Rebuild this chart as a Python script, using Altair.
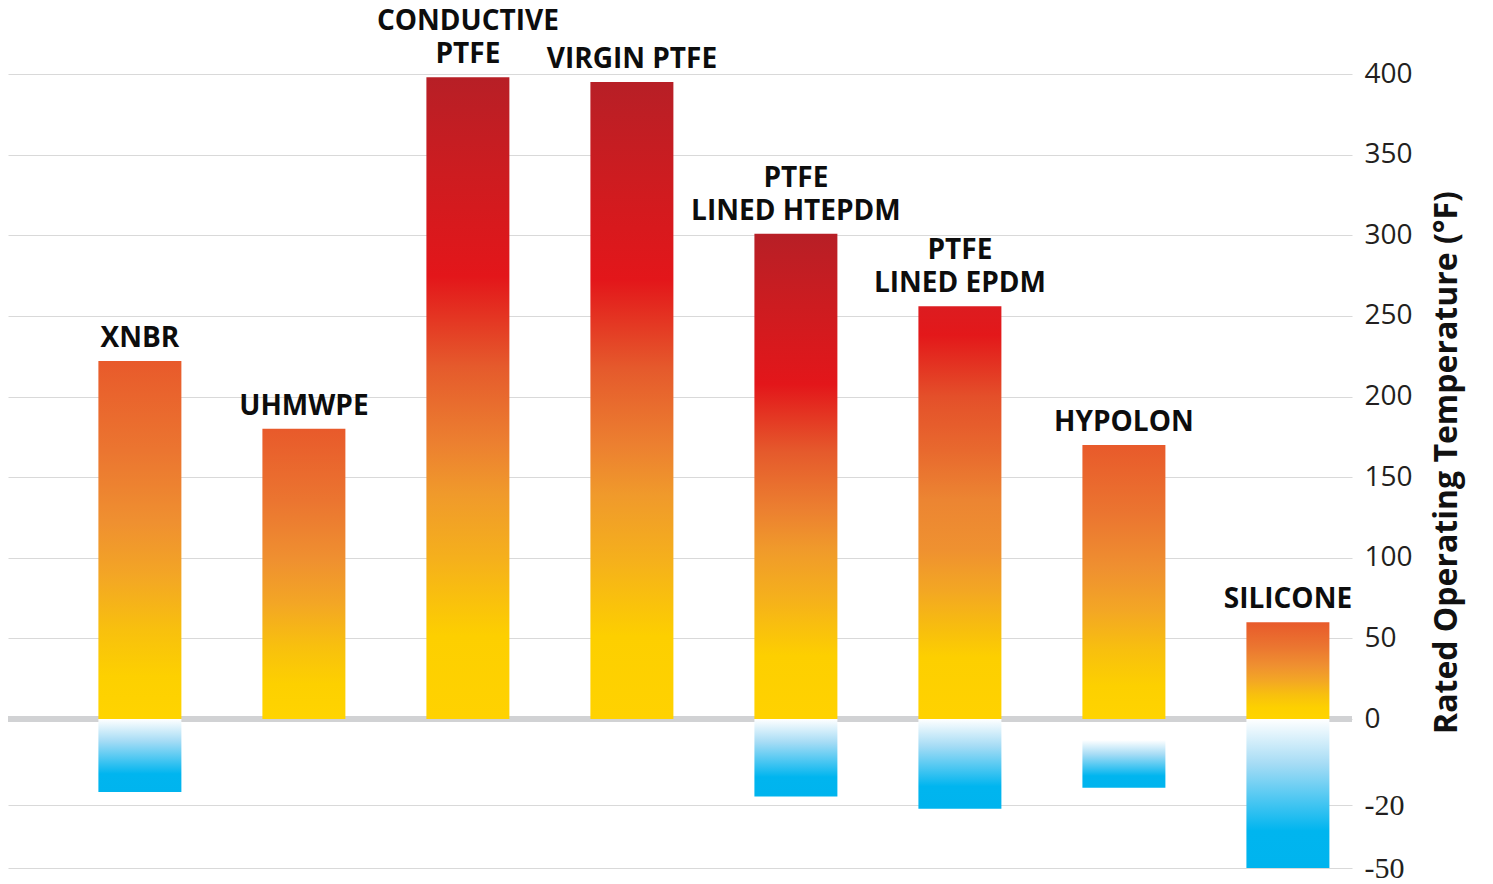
import altair as alt
import pandas as pd

# ---- data ----
materials = ["XNBR", "UHMWPE", "CONDUCTIVE PTFE", "VIRGIN PTFE",
             "PTFE LINED HTEPDM", "PTFE LINED EPDM", "HYPOLON", "SILICONE"]
label_upper = ["", "", "CONDUCTIVE", "", "PTFE", "PTFE", "", ""]
label_lower = ["XNBR", "UHMWPE", "PTFE", "VIRGIN PTFE",
               "LINED HTEPDM", "LINED EPDM", "HYPOLON", "SILICONE"]
max_temp = [222, 180, 398, 395, 301, 256, 170, 60]
min_temp = [-17, None, None, None, -18, -21.8, -16, -50]
cold_top = [0, None, None, None, 0, 0, -4.9, 0]
tick_values = [-50, -20, 0, 50, 100, 150, 200, 250, 300, 350, 400]

df = pd.DataFrame({
    "material": materials,
    "upper": label_upper,
    "lower": label_lower,
    "max_temp": max_temp,
    "min_temp": min_temp,
    "cold_top": cold_top,
})

# ---- styles ----
WARM = [(0, "#ffd400"), (0.12, "#fdd000"), (0.25, "#f8c00e"), (0.4, "#f3a625"),
        (0.55, "#ef9030"), (0.75, "#eb7530"), (1, "#e85a2b")]
HOT = [(0, "#ffd200"), (0.13, "#fdcf00"), (0.25, "#f5b01c"), (0.35, "#f09a2b"),
       (0.43, "#ec8030"), (0.55, "#e55a2c"), (0.69, "#e3161a"), (0.85, "#cd1c20"),
       (1, "#b71f26")]
RED = [(0, "#ffd200"), (0.15, "#fdcf00"), (0.21, "#f8c00c"), (0.31, "#f3a723"),
       (0.41, "#ef9130"), (0.53, "#ec8532"), (0.65, "#e8692e"), (0.78, "#e4502a"),
       (0.93, "#e3181a"), (1, "#dc1c20")]
COLD = [(0, "#ffffff"), (0.3, "#a6dcf5"), (0.75, "#00b5ef"), (1, "#00b4ee")]

gradient_groups = [
    (WARM, ["XNBR", "UHMWPE", "HYPOLON", "SILICONE"]),
    (HOT, ["CONDUCTIVE PTFE", "VIRGIN PTFE", "PTFE LINED HTEPDM"]),
    (RED, ["PTFE LINED EPDM"]),
]


def grad(stops, up=True):
    return alt.Gradient(
        gradient="linear",
        stops=[alt.GradientStop(offset=o, color=c) for o, c in stops],
        x1=0, x2=0, y1=1 if up else 0, y2=0 if up else 1,
    )


x_enc = alt.X("material:N", sort=materials, axis=None,
              scale=alt.Scale(paddingInner=0.494, paddingOuter=0.3445, align=0.80))

y_scale = alt.Scale(domain=[-50, -20, 0, 400], range=[860, 797, 711, 66])
y_axis = alt.Axis(
    orient="right", values=tick_values, grid=True, gridColor="#d9d9d9", gridWidth=1.2,
    domain=False, ticks=False, labelPadding=12,
    labelFontSize={"condition": {"test": "datum.value < 0", "value": 30}, "value": 28},
    labelFont={"condition": {"test": "datum.value < 0", "value": "Liberation Serif"},
               "value": "Open Sans"},
    labelExpr="datum.value < 0 ? '-' + (-datum.value) : datum.label",
    labelColor="#231f20",
    title="Rated Operating Temperature (°F)", titleFont="Open Sans",
    titleFontSize=32, titleFontWeight="bold", titleColor="#111111",
    titleAngle=270, titleAlign="center", titleBaseline="middle",
    titleX=94, titleY=454,
)

base = alt.Chart(df)

zero_line = alt.Chart(pd.DataFrame({"t": [0]})).mark_rule(
    color="#d1d2d4", strokeWidth=6
).encode(y=alt.Y("t:Q", scale=y_scale, axis=y_axis))

hot_layers = []
for stops, names in gradient_groups:
    hot_layers.append(
        base.transform_filter(alt.FieldOneOfPredicate(field="material", oneOf=names))
        .mark_bar(color=grad(stops, up=True))
        .encode(x=x_enc,
                y=alt.Y("max_temp:Q", scale=y_scale, axis=y_axis),
                y2=alt.datum(0))
    )

cold_bars = base.transform_filter("isValid(datum.min_temp)").mark_bar(
    color=grad(COLD, up=False)
).encode(
    x=x_enc,
    y=alt.Y("cold_top:Q", scale=y_scale, axis=y_axis),
    y2="min_temp:Q",
)

text_style = dict(font="Open Sans", fontWeight="bold", fontSize=28, color="#0d0d0d",
                  baseline="alphabetic", align="center")

labels_lower = base.mark_text(dy=-14, **text_style).encode(
    x=x_enc,
    y=alt.Y("max_temp:Q", scale=y_scale, axis=y_axis),
    text="lower:N",
)
labels_upper = base.transform_filter("datum.upper != ''").mark_text(
    dy=-47, **text_style
).encode(
    x=x_enc,
    y=alt.Y("max_temp:Q", scale=y_scale, axis=y_axis),
    text="upper:N",
)

chart = alt.layer(zero_line, *hot_layers, cold_bars, labels_lower, labels_upper).properties(
    width=1344, height=862, autosize="none",
    padding={"left": 0, "top": 0, "right": 130, "bottom": 14},
).configure_view(stroke=None)

chart.save("out.html", embed_options={"renderer": "svg", "actions": False})
